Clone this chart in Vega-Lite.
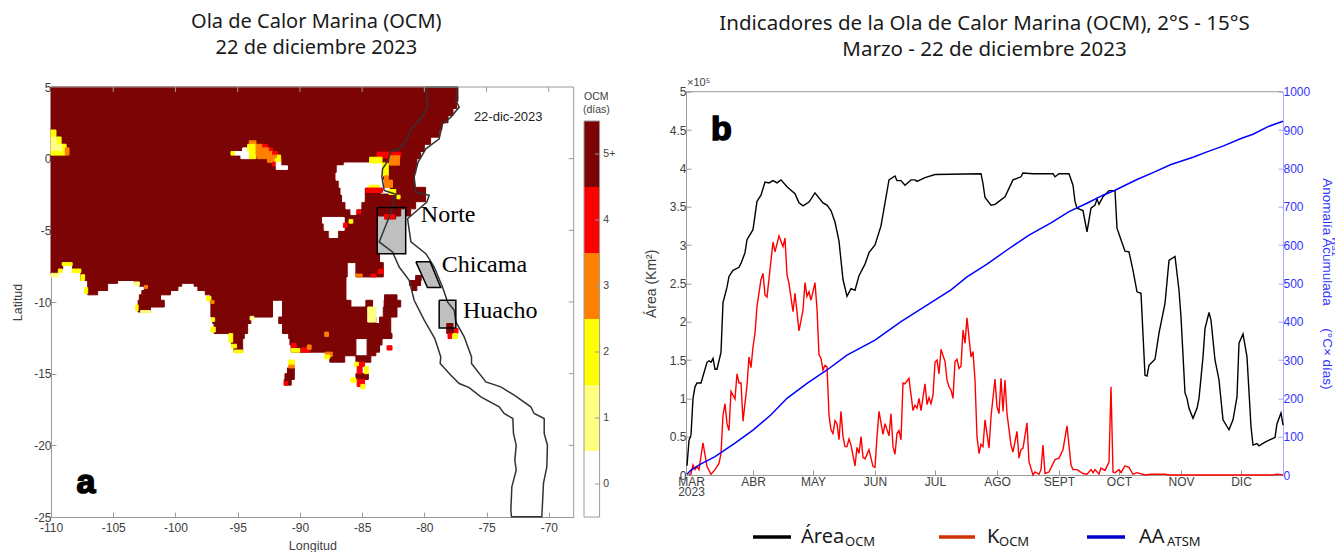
{"$schema":"https://vega.github.io/schema/vega-lite/v6.json","background":"white","padding":{"left":11,"top":11,"right":55,"bottom":36},"bounds":"flush","spacing":10,
"config":{"view":{"stroke":null},"axis":{"labelFont":"Liberation Sans","titleFont":"Liberation Sans","labelFontSize":12,"labelColor":"#404040","titleColor":"#404040","titleFontWeight":"normal","titleFontSize":12.5,"domainColor":"#9a9a9a","tickColor":"#9a9a9a","grid":false,"tickSize":-5,"labelOverlap":false,"labelFlush":false},"title":{"font":"Noto Sans","fontSize":20,"fontWeight":"normal","color":"#1a1a1a","anchor":"middle","lineHeight":26}},
"datasets":{
"celdas":[
{"n":5,"s":4,"w":-110,"e":-77.3,"ocm":5},{"n":4,"s":3.5,"w":-110,"e":-77.4,"ocm":5},{"n":3.5,"s":3,"w":-110,"e":-77.7,"ocm":5},{"n":3,"s":2.5,"w":-110,"e":-78.1,"ocm":5},{"n":2.5,"s":2,"w":-110,"e":-78.6,"ocm":5},{"n":2,"s":1.5,"w":-110,"e":-78.8,"ocm":5},{"n":1.5,"s":1,"w":-110,"e":-79.5,"ocm":5},{"n":1,"s":0.5,"w":-110,"e":-80,"ocm":5},{"n":0.5,"s":0,"w":-110,"e":-80.3,"ocm":5},{"n":0,"s":-0.5,"w":-110,"e":-80.6,"ocm":5},{"n":-0.5,"s":-1,"w":-110,"e":-80.7,"ocm":5},{"n":-1,"s":-2,"w":-110,"e":-80.8,"ocm":5},{"n":-2,"s":-3,"w":-110,"e":-79.9,"ocm":5},{"n":-3,"s":-3.5,"w":-110,"e":-80.7,"ocm":5},
{"n":-3.5,"s":-4,"w":-110,"e":-81.9,"ocm":5},{"n":-3.5,"s":-4,"w":-81.5,"e":-81.1,"ocm":5},{"n":-4,"s":-4.2,"w":-110,"e":-83.79,"ocm":5},{"n":-4,"s":-4.2,"w":-83.2,"e":-82.3,"ocm":5},{"n":-4.2,"s":-6.6,"w":-110,"e":-83.79,"ocm":5},{"n":-6.6,"s":-7.25,"w":-110,"e":-83.6,"ocm":5},
{"n":-7.25,"s":-7.7,"w":-110,"e":-109.06,"ocm":5},{"n":-7.25,"s":-7.7,"w":-108.26,"e":-86.2,"ocm":5},{"n":-7.25,"s":-7.7,"w":-85.5,"e":-83.3,"ocm":5},
{"n":-7.7,"s":-8.1,"w":-110,"e":-109.46,"ocm":5},{"n":-7.7,"s":-8.1,"w":-107.6,"e":-86.2,"ocm":5},{"n":-7.7,"s":-8.1,"w":-85.5,"e":-83.3,"ocm":5},
{"n":-8.1,"s":-8.25,"w":-107.6,"e":-86.2,"ocm":5},{"n":-8.1,"s":-8.25,"w":-85.5,"e":-83.3,"ocm":5},{"n":-8.25,"s":-8.5,"w":-107.6,"e":-86.3,"ocm":5},
{"n":-8.5,"s":-8.7,"w":-107.05,"e":-104.65,"ocm":5},{"n":-8.5,"s":-8.7,"w":-103.3,"e":-86.3,"ocm":5},
{"n":-8.7,"s":-8.9,"w":-107.05,"e":-105.45,"ocm":5},{"n":-8.7,"s":-8.9,"w":-102.9,"e":-99.5,"ocm":5},{"n":-8.7,"s":-8.9,"w":-98.5,"e":-86.3,"ocm":5},
{"n":-8.9,"s":-9.2,"w":-107.05,"e":-105.45,"ocm":5},{"n":-8.9,"s":-9.2,"w":-102.5,"e":-99.8,"ocm":5},{"n":-8.9,"s":-9.2,"w":-98.2,"e":-86.3,"ocm":5},
{"n":-9.2,"s":-9.5,"w":-107.05,"e":-106.25,"ocm":5},{"n":-9.2,"s":-9.5,"w":-102.7,"e":-100.4,"ocm":5},{"n":-9.2,"s":-9.5,"w":-97.6,"e":-86.3,"ocm":5},
{"n":-9.5,"s":-9.88,"w":-102.9,"e":-101.2,"ocm":5},{"n":-9.5,"s":-9.88,"w":-97.2,"e":-86.3,"ocm":5},{"n":-9.5,"s":-9.88,"w":-83.2,"e":-82.2,"ocm":5},
{"n":-9.88,"s":-10.35,"w":-103,"e":-100.9,"ocm":5},{"n":-9.88,"s":-10.35,"w":-97.15,"e":-92.2,"ocm":5},{"n":-9.88,"s":-10.35,"w":-91.4,"e":-85.9,"ocm":5},{"n":-9.88,"s":-10.35,"w":-84.7,"e":-84.16,"ocm":5},{"n":-9.88,"s":-10.35,"w":-83.23,"e":-81.9,"ocm":5},
{"n":-10.35,"s":-10.7,"w":-103,"e":-102,"ocm":5},{"n":-10.35,"s":-10.7,"w":-97.15,"e":-92.2,"ocm":5},{"n":-10.35,"s":-10.7,"w":-91.4,"e":-84.57,"ocm":5},{"n":-10.35,"s":-10.7,"w":-83.3,"e":-82.2,"ocm":5},
{"n":-10.7,"s":-11.05,"w":-97.15,"e":-92.2,"ocm":5},{"n":-10.7,"s":-11.05,"w":-91.4,"e":-84.57,"ocm":5},{"n":-10.7,"s":-11.05,"w":-83.3,"e":-82.2,"ocm":5},
{"n":-11.05,"s":-11.5,"w":-97,"e":-93.94,"ocm":5},{"n":-11.05,"s":-11.5,"w":-91.7,"e":-83.9,"ocm":5},{"n":-11.05,"s":-11.5,"w":-83.6,"e":-82.7,"ocm":5},
{"n":-11.5,"s":-12.2,"w":-96.9,"e":-94.2,"ocm":5},{"n":-11.5,"s":-12.2,"w":-91.4,"e":-82.7,"ocm":5},
{"n":-12.2,"s":-12.55,"w":-95.5,"e":-94.47,"ocm":5},{"n":-12.2,"s":-12.55,"w":-90.9,"e":-82.6,"ocm":5},
{"n":-12.55,"s":-13,"w":-95.5,"e":-94.6,"ocm":5},{"n":-12.55,"s":-13,"w":-90.8,"e":-85.5,"ocm":5},{"n":-12.55,"s":-13,"w":-84.6,"e":-83.4,"ocm":5},
{"n":-13,"s":-13.5,"w":-95.3,"e":-94.6,"ocm":5},{"n":-13,"s":-13.5,"w":-90.7,"e":-85.5,"ocm":5},{"n":-13,"s":-13.5,"w":-84.6,"e":-83.6,"ocm":5},
{"n":-13.5,"s":-13.75,"w":-87.9,"e":-85.5,"ocm":5},{"n":-13.5,"s":-13.75,"w":-84.6,"e":-83.9,"ocm":5},{"n":-13.75,"s":-14.2,"w":-87.6,"e":-86.4,"ocm":5},{"n":-13.75,"s":-14.2,"w":-85.5,"e":-84.3,"ocm":5},
{"n":-15,"s":-15.4,"w":-85.5,"e":-84.5,"ocm":5},{"n":-14.6,"s":-15,"w":-91,"e":-90.45,"ocm":5},{"n":-15,"s":-15.4,"w":-91.2,"e":-90.45,"ocm":5},{"n":-15.4,"s":-15.8,"w":-91.26,"e":-90.7,"ocm":5},
{"n":-14.2,"s":-14.5,"w":-85.3,"e":-84.8,"ocm":4},{"n":-14.2,"s":-14.5,"w":-85.6,"e":-85.3,"ocm":2},{"n":-14.5,"s":-15,"w":-85.4,"e":-85,"ocm":4},{"n":-14.5,"s":-15,"w":-84.8,"e":-84.5,"ocm":2},{"n":-15.4,"s":-15.9,"w":-85.4,"e":-84.8,"ocm":4},{"n":-15.3,"s":-15.6,"w":-85.9,"e":-85.5,"ocm":2},{"n":-15.75,"s":-16.05,"w":-85.1,"e":-84.8,"ocm":2},
{"n":-14.05,"s":-14.4,"w":-90.9,"e":-90.45,"ocm":2},{"n":-14.4,"s":-14.6,"w":-90.9,"e":-90.45,"ocm":3},{"n":-15.55,"s":-15.8,"w":-91.26,"e":-91,"ocm":4},
{"n":-11.5,"s":-11.85,"w":-78.2,"e":-77.7,"ocm":5},{"n":-11.85,"s":-12.2,"w":-78.2,"e":-77.6,"ocm":5},{"n":-11.85,"s":-12.2,"w":-77.6,"e":-77.3,"ocm":4},{"n":-12.2,"s":-12.55,"w":-78.1,"e":-77.8,"ocm":4},{"n":-12.2,"s":-12.55,"w":-77.7,"e":-77.35,"ocm":2},
{"n":-8.15,"s":-8.5,"w":-80.7,"e":-80.25,"ocm":5},{"n":-8.5,"s":-8.85,"w":-81.2,"e":-80.3,"ocm":5},{"n":-8.85,"s":-9.2,"w":-81,"e":-80.6,"ocm":5},
{"n":2,"s":1.5,"w":-110,"e":-109.6,"ocm":2},{"n":1.5,"s":1,"w":-110,"e":-109.2,"ocm":1},{"n":1.5,"s":1,"w":-109.5,"e":-109.2,"ocm":2},{"n":1,"s":0.5,"w":-110,"e":-108.8,"ocm":1},{"n":1,"s":0.5,"w":-109.05,"e":-108.8,"ocm":2},{"n":0.5,"s":0.25,"w":-110,"e":-108.85,"ocm":2},{"n":0.75,"s":0.25,"w":-108.85,"e":-108.55,"ocm":3},
{"n":1.25,"s":1,"w":-94.07,"e":-93.53,"ocm":3},{"n":1,"s":0.75,"w":-94.2,"e":-93.53,"ocm":2},{"n":1,"s":0.75,"w":-93.53,"e":-93,"ocm":3},{"n":1,"s":0.75,"w":-93,"e":-92.6,"ocm":4},{"n":0.75,"s":0.5,"w":-94.6,"e":-94.2,"ocm":0},{"n":0.75,"s":0.5,"w":-94.2,"e":-93.53,"ocm":2},{"n":0.75,"s":0.5,"w":-93.53,"e":-92.46,"ocm":3},{"n":0.75,"s":0.5,"w":-92.46,"e":-92.2,"ocm":4},
{"n":0.5,"s":0.25,"w":-95.27,"e":-94.07,"ocm":0},{"n":0.5,"s":0.25,"w":-95.54,"e":-95.27,"ocm":2},{"n":0.5,"s":0.25,"w":-94.07,"e":-93.53,"ocm":2},{"n":0.5,"s":0.25,"w":-93.53,"e":-92.2,"ocm":3},{"n":0.5,"s":0.25,"w":-92.2,"e":-91.8,"ocm":4},
{"n":0.25,"s":0,"w":-94.74,"e":-94.07,"ocm":0},{"n":0.25,"s":0,"w":-94.07,"e":-93.53,"ocm":2},{"n":0.25,"s":0,"w":-93.4,"e":-91.8,"ocm":3},{"n":0.25,"s":0,"w":-91.8,"e":-91.55,"ocm":2},
{"n":0,"s":-0.25,"w":-92.6,"e":-92.05,"ocm":3},{"n":0,"s":-0.25,"w":-92,"e":-91.53,"ocm":2},{"n":-0.25,"s":-0.5,"w":-92.2,"e":-91.9,"ocm":4},{"n":-0.25,"s":-0.5,"w":-91.9,"e":-91.53,"ocm":0},{"n":-0.5,"s":-0.75,"w":-91.9,"e":-91,"ocm":0},
{"n":-0.3,"s":-0.5,"w":-86.44,"e":-83.4,"ocm":0},{"n":-0.5,"s":-1,"w":-87,"e":-83.36,"ocm":0},{"n":-1,"s":-1.5,"w":-87.1,"e":-83.36,"ocm":0},{"n":-1.5,"s":-2,"w":-86.84,"e":-83.23,"ocm":0},{"n":-2,"s":-2.5,"w":-86.7,"e":-84.83,"ocm":0},{"n":-2.5,"s":-3,"w":-86.57,"e":-84.83,"ocm":0},{"n":-3,"s":-3.5,"w":-86.3,"e":-85.1,"ocm":0},{"n":-3.5,"s":-3.9,"w":-85.9,"e":-85.5,"ocm":0},{"n":-4.1,"s":-4.5,"w":-88.18,"e":-86.44,"ocm":0},{"n":-4.5,"s":-5,"w":-88.05,"e":-86.44,"ocm":0},{"n":-5,"s":-5.5,"w":-87.64,"e":-86.97,"ocm":0},{"n":-2,"s":-2.4,"w":-83.5,"e":-82.83,"ocm":0},
{"n":0.45,"s":0.05,"w":-83.8,"e":-81.9,"ocm":4},{"n":0.2,"s":-0.45,"w":-82.8,"e":-82,"ocm":3},{"n":0.1,"s":-0.3,"w":-84.4,"e":-83.4,"ocm":2},{"n":-0.3,"s":-1.2,"w":-83.36,"e":-82.9,"ocm":2},{"n":-1.2,"s":-1.5,"w":-83.2,"e":-82.9,"ocm":3},{"n":-1.5,"s":-2,"w":-83.23,"e":-82.56,"ocm":3},{"n":-1.85,"s":-2.05,"w":-84.43,"e":-83.63,"ocm":2},{"n":-2.05,"s":-2.35,"w":-84.7,"e":-83.36,"ocm":4},{"n":-2.15,"s":-2.5,"w":-82.83,"e":-82.3,"ocm":2},{"n":-2.55,"s":-2.8,"w":-82.2,"e":-81.95,"ocm":2},{"n":-3.6,"s":-3.85,"w":-85.4,"e":-85.1,"ocm":4},{"n":-4.25,"s":-4.5,"w":-86.05,"e":-85.75,"ocm":2},{"n":-4.5,"s":-4.8,"w":-86.5,"e":-86.2,"ocm":4},{"n":-3.9,"s":-4.2,"w":-83.2,"e":-82.4,"ocm":4},{"n":-8.05,"s":-8.25,"w":-85.5,"e":-85,"ocm":3},{"n":-8.05,"s":-8.25,"w":-84.3,"e":-83.9,"ocm":4},{"n":-7.7,"s":-8,"w":-83.7,"e":-83.3,"ocm":4},
{"n":-7.25,"s":-7.45,"w":-109.1,"e":-108.3,"ocm":2},{"n":-7.7,"s":-7.95,"w":-109.4,"e":-109.1,"ocm":2},{"n":-8,"s":-8.25,"w":-110,"e":-109.4,"ocm":1},{"n":-7.7,"s":-7.95,"w":-108.3,"e":-107.6,"ocm":2},{"n":-8.1,"s":-8.5,"w":-107.6,"e":-107.3,"ocm":2},{"n":-9,"s":-9.4,"w":-107.3,"e":-107.05,"ocm":2},{"n":-8.85,"s":-9.05,"w":-102.5,"e":-102.25,"ocm":3},{"n":-8.6,"s":-8.85,"w":-103.3,"e":-102.9,"ocm":1},{"n":-9.6,"s":-9.9,"w":-97.5,"e":-97.15,"ocm":2},{"n":-9.9,"s":-10.1,"w":-97.2,"e":-96.9,"ocm":3},{"n":-10.2,"s":-10.6,"w":-103.2,"e":-103,"ocm":2},{"n":-10.6,"s":-10.75,"w":-102.8,"e":-102,"ocm":1},{"n":-11.1,"s":-11.35,"w":-97.1,"e":-96.85,"ocm":2},{"n":-11.75,"s":-12.1,"w":-97.15,"e":-96.8,"ocm":2},{"n":-12.2,"s":-12.8,"w":-95.7,"e":-95.4,"ocm":2},{"n":-12.95,"s":-13.2,"w":-95.5,"e":-95.1,"ocm":2},{"n":-13.35,"s":-13.55,"w":-95.3,"e":-94.6,"ocm":2},{"n":-11,"s":-11.25,"w":-94,"e":-93.7,"ocm":1},
{"n":-12.9,"s":-13.2,"w":-90.7,"e":-90.3,"ocm":4},{"n":-13.25,"s":-13.5,"w":-90.7,"e":-90,"ocm":2},{"n":-13.2,"s":-13.5,"w":-89.9,"e":-89.2,"ocm":4},{"n":-12.1,"s":-12.4,"w":-88,"e":-87.7,"ocm":3},{"n":-13,"s":-13.3,"w":-89.4,"e":-89.1,"ocm":3},{"n":-13.5,"s":-13.8,"w":-87.95,"e":-87.4,"ocm":3},{"n":-13.7,"s":-13.95,"w":-88,"e":-87.6,"ocm":2},{"n":-13.05,"s":-13.35,"w":-83,"e":-82.6,"ocm":4},{"n":-10.35,"s":-11.4,"w":-84.55,"e":-83.9,"ocm":1}
],
"cajas":[
{"caja":"Norte","i":1,"lon":-83.79,"lat":-3.4},{"caja":"Norte","i":2,"lon":-81.5,"lat":-3.4},{"caja":"Norte","i":3,"lon":-81.5,"lat":-6.63},{"caja":"Norte","i":4,"lon":-83.79,"lat":-6.63},{"caja":"Norte","i":5,"lon":-83.79,"lat":-3.4},
{"caja":"Chicama","i":1,"lon":-80.68,"lat":-7.2},{"caja":"Chicama","i":2,"lon":-79.53,"lat":-7.2},{"caja":"Chicama","i":3,"lon":-78.68,"lat":-8.99},{"caja":"Chicama","i":4,"lon":-79.75,"lat":-8.99},{"caja":"Chicama","i":5,"lon":-80.68,"lat":-7.2},
{"caja":"Huacho","i":1,"lon":-78.81,"lat":-9.88},{"caja":"Huacho","i":2,"lon":-77.47,"lat":-9.88},{"caja":"Huacho","i":3,"lon":-77.47,"lat":-11.81},{"caja":"Huacho","i":4,"lon":-78.81,"lat":-11.81},{"caja":"Huacho","i":5,"lon":-78.81,"lat":-9.88}
],
"costa":[
{"i":1,"lon":-79.88,"lat":4.99},{"i":2,"lon":-79.8,"lat":4.29},{"i":3,"lon":-79.69,"lat":3.71},{"i":4,"lon":-80.01,"lat":3.13},{"i":5,"lon":-80.68,"lat":2.43},{"i":6,"lon":-81.22,"lat":1.85},{"i":7,"lon":-81.35,"lat":1.39},{"i":8,"lon":-82.02,"lat":0.69},{"i":9,"lon":-82.74,"lat":0.46},{"i":10,"lon":-82.9,"lat":-0.12},{"i":11,"lon":-83.36,"lat":-0.7},{"i":12,"lon":-83.41,"lat":-1.28},{"i":13,"lon":-83.23,"lat":-2.21},{"i":14,"lon":-82.29,"lat":-2.49},{"i":15,"lon":-82.48,"lat":-3.14},{"i":16,"lon":-82.83,"lat":-4.07},{"i":17,"lon":-83.63,"lat":-5.81},{"i":18,"lon":-82.56,"lat":-6.51},{"i":19,"lon":-82.02,"lat":-7.56},{"i":20,"lon":-81.22,"lat":-8.48},{"i":21,"lon":-80.82,"lat":-9.88},{"i":22,"lon":-80.01,"lat":-11.27},{"i":23,"lon":-79.16,"lat":-12.55},{"i":24,"lon":-78.68,"lat":-13.83},{"i":25,"lon":-78.73,"lat":-14.29},{"i":26,"lon":-77.87,"lat":-15.11},{"i":27,"lon":-77.2,"lat":-15.69},{"i":28,"lon":-76.4,"lat":-15.97},{"i":29,"lon":-75.46,"lat":-16.62},{"i":30,"lon":-73.99,"lat":-17.31},{"i":31,"lon":-73.59,"lat":-17.78},{"i":32,"lon":-72.89,"lat":-18.13},{"i":33,"lon":-72.84,"lat":-19.17},{"i":34,"lon":-72.62,"lat":-19.99},{"i":35,"lon":-72.73,"lat":-21.03},{"i":36,"lon":-72.62,"lat":-21.73},{"i":37,"lon":-72.97,"lat":-22.89},{"i":38,"lon":-73.05,"lat":-24.51},{"i":39,"lon":-73,"lat":-24.98},
{"i":40,"lon":-70.56,"lat":-24.98},{"i":41,"lon":-70.43,"lat":-22.66},{"i":42,"lon":-70.16,"lat":-21.5},{"i":43,"lon":-70.11,"lat":-19.99},{"i":44,"lon":-70.37,"lat":-19.17},{"i":45,"lon":-70.37,"lat":-18.13},{"i":46,"lon":-71.18,"lat":-17.78},{"i":47,"lon":-71.45,"lat":-17.31},{"i":48,"lon":-72.78,"lat":-16.5},{"i":49,"lon":-73.86,"lat":-15.92},{"i":50,"lon":-75.06,"lat":-15.57},{"i":51,"lon":-76.21,"lat":-14.29},{"i":52,"lon":-76.21,"lat":-13.83},{"i":53,"lon":-76.8,"lat":-12.43},{"i":54,"lon":-77.47,"lat":-11.39},{"i":55,"lon":-77.6,"lat":-10.58},{"i":56,"lon":-78.14,"lat":-9.99},{"i":57,"lon":-78.54,"lat":-8.95},{"i":58,"lon":-79.21,"lat":-7.56},{"i":59,"lon":-79.88,"lat":-6.63},{"i":60,"lon":-81.08,"lat":-5.81},{"i":61,"lon":-81.35,"lat":-4.19},{"i":62,"lon":-79.8,"lat":-3.03},{"i":63,"lon":-79.61,"lat":-2.56},{"i":64,"lon":-80.68,"lat":-2.33},{"i":65,"lon":-80.82,"lat":-1.28},{"i":66,"lon":-80.5,"lat":-0.24},{"i":67,"lon":-79.88,"lat":0.69},{"i":68,"lon":-78.81,"lat":1.39},{"i":69,"lon":-78.54,"lat":2.43},{"i":70,"lon":-77.87,"lat":2.9},{"i":71,"lon":-77.2,"lat":3.6},{"i":72,"lon":-77.47,"lat":4.06},{"i":73,"lon":-77.34,"lat":4.99},{"i":74,"lon":-79.88,"lat":4.99}
],
"area":[
{"fecha":"2023-02-27","valor":0.12},{"fecha":"2023-02-28","valor":0.45},{"fecha":"2023-03-01","valor":0.52},{"fecha":"2023-03-02","valor":1.0},{"fecha":"2023-03-03","valor":1.15},{"fecha":"2023-03-04","valor":1.2},{"fecha":"2023-03-06","valor":1.2},{"fecha":"2023-03-09","valor":1.47},{"fecha":"2023-03-10","valor":1.49},{"fecha":"2023-03-11","valor":1.47},{"fecha":"2023-03-12","valor":1.52},{"fecha":"2023-03-13","valor":1.38},{"fecha":"2023-03-14","valor":1.38},{"fecha":"2023-03-16","valor":1.6},{"fecha":"2023-03-17","valor":2.25},{"fecha":"2023-03-19","valor":2.45},{"fecha":"2023-03-20","valor":2.59},{"fecha":"2023-03-22","valor":2.67},{"fecha":"2023-03-25","valor":2.71},{"fecha":"2023-03-26","valor":2.76},{"fecha":"2023-03-28","valor":2.9},{"fecha":"2023-03-29","valor":3.07},{"fecha":"2023-04-01","valor":3.2},{"fecha":"2023-04-03","valor":3.57},{"fecha":"2023-04-05","valor":3.65},{"fecha":"2023-04-07","valor":3.82},{"fecha":"2023-04-09","valor":3.81},{"fecha":"2023-04-11","valor":3.84},{"fecha":"2023-04-13","valor":3.81},{"fecha":"2023-04-15","valor":3.85},{"fecha":"2023-04-18","valor":3.76},{"fecha":"2023-04-22","valor":3.67},{"fecha":"2023-04-24","valor":3.55},{"fecha":"2023-04-26","valor":3.51},{"fecha":"2023-04-29","valor":3.56},{"fecha":"2023-05-02","valor":3.68},{"fecha":"2023-05-06","valor":3.55},{"fecha":"2023-05-08","valor":3.52},{"fecha":"2023-05-10","valor":3.45},{"fecha":"2023-05-12","valor":3.3},{"fecha":"2023-05-14","valor":3.05},{"fecha":"2023-05-16","valor":2.55},{"fecha":"2023-05-18","valor":2.33},{"fecha":"2023-05-20","valor":2.43},{"fecha":"2023-05-22","valor":2.41},{"fecha":"2023-05-24","valor":2.6},{"fecha":"2023-05-27","valor":2.75},{"fecha":"2023-05-29","valor":2.9},{"fecha":"2023-06-01","valor":3.0},{"fecha":"2023-06-04","valor":3.25},{"fecha":"2023-06-08","valor":3.85},{"fecha":"2023-06-11","valor":3.9},{"fecha":"2023-06-12","valor":3.84},{"fecha":"2023-06-14","valor":3.84},{"fecha":"2023-06-16","valor":3.78},{"fecha":"2023-06-19","valor":3.85},{"fecha":"2023-06-21","valor":3.85},{"fecha":"2023-06-22","valor":3.83},{"fecha":"2023-06-26","valor":3.88},{"fecha":"2023-07-01","valor":3.92},{"fecha":"2023-07-24","valor":3.93},{"fecha":"2023-07-25","valor":3.8},{"fecha":"2023-07-26","valor":3.62},{"fecha":"2023-07-29","valor":3.52},{"fecha":"2023-07-31","valor":3.53},{"fecha":"2023-08-01","valor":3.55},{"fecha":"2023-08-05","valor":3.63},{"fecha":"2023-08-09","valor":3.85},{"fecha":"2023-08-13","valor":3.89},{"fecha":"2023-08-14","valor":3.94},{"fecha":"2023-08-19","valor":3.93},{"fecha":"2023-08-29","valor":3.93},{"fecha":"2023-08-30","valor":3.89},{"fecha":"2023-09-01","valor":3.93},{"fecha":"2023-09-06","valor":3.93},{"fecha":"2023-09-08","valor":3.78},{"fecha":"2023-09-09","valor":3.57},{"fecha":"2023-09-10","valor":3.48},{"fecha":"2023-09-13","valor":3.45},{"fecha":"2023-09-15","valor":3.17},{"fecha":"2023-09-17","valor":3.48},{"fecha":"2023-09-19","valor":3.52},{"fecha":"2023-09-20","valor":3.6},{"fecha":"2023-09-21","valor":3.53},{"fecha":"2023-09-23","valor":3.63},{"fecha":"2023-09-26","valor":3.71},{"fecha":"2023-09-29","valor":3.71},{"fecha":"2023-09-30","valor":3.22},{"fecha":"2023-10-02","valor":3.07},{"fecha":"2023-10-04","valor":2.92},{"fecha":"2023-10-06","valor":2.91},{"fecha":"2023-10-08","valor":2.67},{"fecha":"2023-10-10","valor":2.39},{"fecha":"2023-10-12","valor":2.37},{"fecha":"2023-10-14","valor":1.3},{"fecha":"2023-10-15","valor":1.29},{"fecha":"2023-10-16","valor":1.43},{"fecha":"2023-10-19","valor":1.51},{"fecha":"2023-10-21","valor":1.85},{"fecha":"2023-10-24","valor":2.24},{"fecha":"2023-10-26","valor":2.8},{"fecha":"2023-10-29","valor":2.85},{"fecha":"2023-10-31","valor":2.41},{"fecha":"2023-11-01","valor":2.06},{"fecha":"2023-11-03","valor":1.07},{"fecha":"2023-11-04","valor":1.0},{"fecha":"2023-11-05","valor":0.87},{"fecha":"2023-11-07","valor":0.74},{"fecha":"2023-11-09","valor":0.87},{"fecha":"2023-11-10","valor":1.0},{"fecha":"2023-11-12","valor":1.54},{"fecha":"2023-11-13","valor":1.91},{"fecha":"2023-11-15","valor":2.12},{"fecha":"2023-11-16","valor":2.02},{"fecha":"2023-11-18","valor":1.5},{"fecha":"2023-11-20","valor":1.24},{"fecha":"2023-11-22","valor":0.72},{"fecha":"2023-11-25","valor":0.59},{"fecha":"2023-11-27","valor":0.72},{"fecha":"2023-11-29","valor":1.02},{"fecha":"2023-11-30","valor":1.72},{"fecha":"2023-12-02","valor":1.84},{"fecha":"2023-12-04","valor":1.54},{"fecha":"2023-12-06","valor":0.63},{"fecha":"2023-12-07","valor":0.39},{"fecha":"2023-12-09","valor":0.41},{"fecha":"2023-12-10","valor":0.38},{"fecha":"2023-12-13","valor":0.43},{"fecha":"2023-12-18","valor":0.49},{"fecha":"2023-12-19","valor":0.67},{"fecha":"2023-12-21","valor":0.81},{"fecha":"2023-12-22","valor":0.65}
],
"k":[
{"fecha":"2023-02-28","valor":0},{"fecha":"2023-03-01","valor":0.02},{"fecha":"2023-03-02","valor":0.13},{"fecha":"2023-03-03","valor":0.07},{"fecha":"2023-03-04","valor":0.11},{"fecha":"2023-03-05","valor":0.07},{"fecha":"2023-03-07","valor":0.42},{"fecha":"2023-03-09","valor":0.11},{"fecha":"2023-03-11","valor":0.01},{"fecha":"2023-03-13","valor":0.07},{"fecha":"2023-03-15","valor":0.15},{"fecha":"2023-03-16","valor":0.28},{"fecha":"2023-03-17","valor":0.78},{"fecha":"2023-03-18","valor":0.93},{"fecha":"2023-03-19","valor":0.67},{"fecha":"2023-03-20","valor":0.58},{"fecha":"2023-03-21","valor":1.09},{"fecha":"2023-03-23","valor":0.99},{"fecha":"2023-03-24","valor":1.32},{"fecha":"2023-03-25","valor":1.2},{"fecha":"2023-03-26","valor":1.2},{"fecha":"2023-03-27","valor":0.7},{"fecha":"2023-03-29","valor":1.17},{"fecha":"2023-03-30","valor":1.54},{"fecha":"2023-03-31","valor":1.4},{"fecha":"2023-04-01","valor":1.67},{"fecha":"2023-04-02","valor":1.85},{"fecha":"2023-04-03","valor":2.2},{"fecha":"2023-04-05","valor":2.55},{"fecha":"2023-04-06","valor":2.63},{"fecha":"2023-04-07","valor":2.35},{"fecha":"2023-04-08","valor":2.32},{"fecha":"2023-04-11","valor":3.04},{"fecha":"2023-04-12","valor":2.91},{"fecha":"2023-04-14","valor":3.12},{"fecha":"2023-04-16","valor":2.98},{"fecha":"2023-04-17","valor":3.09},{"fecha":"2023-04-18","valor":2.61},{"fecha":"2023-04-19","valor":2.5},{"fecha":"2023-04-21","valor":2.13},{"fecha":"2023-04-22","valor":2.37},{"fecha":"2023-04-24","valor":1.88},{"fecha":"2023-04-26","valor":2.15},{"fecha":"2023-04-27","valor":2.51},{"fecha":"2023-04-28","valor":2.33},{"fecha":"2023-04-29","valor":2.39},{"fecha":"2023-04-30","valor":2.28},{"fecha":"2023-05-02","valor":2.51},{"fecha":"2023-05-03","valor":2.17},{"fecha":"2023-05-04","valor":1.57},{"fecha":"2023-05-05","valor":1.52},{"fecha":"2023-05-06","valor":1.37},{"fecha":"2023-05-07","valor":1.43},{"fecha":"2023-05-08","valor":1.41},{"fecha":"2023-05-09","valor":0.78},{"fecha":"2023-05-10","valor":0.59},{"fecha":"2023-05-11","valor":0.54},{"fecha":"2023-05-12","valor":0.71},{"fecha":"2023-05-13","valor":0.67},{"fecha":"2023-05-14","valor":0.46},{"fecha":"2023-05-15","valor":0.83},{"fecha":"2023-05-16","valor":0.5},{"fecha":"2023-05-17","valor":0.37},{"fecha":"2023-05-18","valor":0.37},{"fecha":"2023-05-19","valor":0.47},{"fecha":"2023-05-20","valor":0.39},{"fecha":"2023-05-22","valor":0.12},{"fecha":"2023-05-23","valor":0.36},{"fecha":"2023-05-24","valor":0.28},{"fecha":"2023-05-25","valor":0.5},{"fecha":"2023-05-26","valor":0.23},{"fecha":"2023-05-27","valor":0.21},{"fecha":"2023-05-29","valor":0.33},{"fecha":"2023-05-31","valor":0.11},{"fecha":"2023-06-01","valor":0.1},{"fecha":"2023-06-02","valor":0.5},{"fecha":"2023-06-03","valor":0.83},{"fecha":"2023-06-05","valor":0.53},{"fecha":"2023-06-06","valor":0.67},{"fecha":"2023-06-08","valor":0.51},{"fecha":"2023-06-09","valor":0.8},{"fecha":"2023-06-10","valor":0.37},{"fecha":"2023-06-11","valor":0.27},{"fecha":"2023-06-12","valor":0.54},{"fecha":"2023-06-13","valor":0.58},{"fecha":"2023-06-14","valor":0.46},{"fecha":"2023-06-15","valor":1.2},{"fecha":"2023-06-16","valor":1.19},{"fecha":"2023-06-18","valor":1.26},{"fecha":"2023-06-20","valor":0.84},{"fecha":"2023-06-21","valor":0.91},{"fecha":"2023-06-22","valor":0.87},{"fecha":"2023-06-23","valor":1.0},{"fecha":"2023-06-24","valor":0.84},{"fecha":"2023-06-26","valor":1.19},{"fecha":"2023-06-27","valor":0.92},{"fecha":"2023-06-28","valor":1.01},{"fecha":"2023-06-29","valor":0.93},{"fecha":"2023-06-30","valor":1.04},{"fecha":"2023-07-01","valor":1.47},{"fecha":"2023-07-02","valor":1.5},{"fecha":"2023-07-03","valor":1.32},{"fecha":"2023-07-04","valor":1.64},{"fecha":"2023-07-06","valor":1.48},{"fecha":"2023-07-07","valor":1.24},{"fecha":"2023-07-08","valor":1.15},{"fecha":"2023-07-09","valor":1.11},{"fecha":"2023-07-10","valor":1.0},{"fecha":"2023-07-11","valor":1.48},{"fecha":"2023-07-12","valor":1.51},{"fecha":"2023-07-13","valor":1.39},{"fecha":"2023-07-14","valor":1.42},{"fecha":"2023-07-15","valor":1.89},{"fecha":"2023-07-16","valor":1.72},{"fecha":"2023-07-17","valor":2.05},{"fecha":"2023-07-19","valor":1.54},{"fecha":"2023-07-20","valor":1.61},{"fecha":"2023-07-21","valor":1.24},{"fecha":"2023-07-22","valor":0.5},{"fecha":"2023-07-23","valor":0.28},{"fecha":"2023-07-24","valor":0.4},{"fecha":"2023-07-25","valor":0.37},{"fecha":"2023-07-26","valor":0.72},{"fecha":"2023-07-28","valor":0.35},{"fecha":"2023-07-29","valor":0.76},{"fecha":"2023-07-31","valor":1.25},{"fecha":"2023-08-01","valor":0.89},{"fecha":"2023-08-02","valor":0.8},{"fecha":"2023-08-03","valor":1.26},{"fecha":"2023-08-04","valor":0.83},{"fecha":"2023-08-05","valor":1.24},{"fecha":"2023-08-06","valor":0.8},{"fecha":"2023-08-08","valor":0.39},{"fecha":"2023-08-09","valor":0.3},{"fecha":"2023-08-11","valor":0.57},{"fecha":"2023-08-12","valor":0.22},{"fecha":"2023-08-13","valor":0.33},{"fecha":"2023-08-14","valor":0.35},{"fecha":"2023-08-16","valor":0.68},{"fecha":"2023-08-17","valor":0.17},{"fecha":"2023-08-19","valor":0},{"fecha":"2023-08-20","valor":0.04},{"fecha":"2023-08-22","valor":0.01},{"fecha":"2023-08-23","valor":0.07},{"fecha":"2023-08-24","valor":0.39},{"fecha":"2023-08-25","valor":0.02},{"fecha":"2023-08-27","valor":0.04},{"fecha":"2023-08-30","valor":0.2},{"fecha":"2023-09-01","valor":0.22},{"fecha":"2023-09-03","valor":0.33},{"fecha":"2023-09-05","valor":0.64},{"fecha":"2023-09-07","valor":0.13},{"fecha":"2023-09-08","valor":0.07},{"fecha":"2023-09-10","valor":0.07},{"fecha":"2023-09-13","valor":0.02},{"fecha":"2023-09-15","valor":0.01},{"fecha":"2023-09-17","valor":0.07},{"fecha":"2023-09-18","valor":0.03},{"fecha":"2023-09-19","valor":0.07},{"fecha":"2023-09-21","valor":0.01},{"fecha":"2023-09-22","valor":0.09},{"fecha":"2023-09-24","valor":0.06},{"fecha":"2023-09-26","valor":0.17},{"fecha":"2023-09-27","valor":1.15},{"fecha":"2023-09-28","valor":0.04},{"fecha":"2023-09-29","valor":0.03},{"fecha":"2023-10-01","valor":0.07},{"fecha":"2023-10-02","valor":0.03},{"fecha":"2023-10-04","valor":0.12},{"fecha":"2023-10-06","valor":0.1},{"fecha":"2023-10-08","valor":0.01},{"fecha":"2023-10-10","valor":0.03},{"fecha":"2023-10-14","valor":0},{"fecha":"2023-10-17","valor":0.01},{"fecha":"2023-10-20","valor":0.01},{"fecha":"2023-10-24","valor":0.01},{"fecha":"2023-10-26","valor":0},{"fecha":"2023-12-17","valor":0},{"fecha":"2023-12-19","valor":0.01},{"fecha":"2023-12-22","valor":0}
],
"aa":[
{"fecha":"2023-02-27","valor":2},{"fecha":"2023-03-01","valor":13},{"fecha":"2023-03-06","valor":29},{"fecha":"2023-03-13","valor":48},{"fecha":"2023-03-23","valor":83},{"fecha":"2023-04-01","valor":117},{"fecha":"2023-04-10","valor":157},{"fecha":"2023-04-18","valor":200},{"fecha":"2023-04-28","valor":239},{"fecha":"2023-05-08","valor":274},{"fecha":"2023-05-18","valor":313},{"fecha":"2023-06-01","valor":352},{"fecha":"2023-06-14","valor":400},{"fecha":"2023-06-27","valor":443},{"fecha":"2023-07-09","valor":483},{"fecha":"2023-07-17","valor":517},{"fecha":"2023-07-27","valor":550},{"fecha":"2023-08-06","valor":587},{"fecha":"2023-08-17","valor":626},{"fecha":"2023-08-28","valor":658},{"fecha":"2023-09-06","valor":687},{"fecha":"2023-09-15","valor":709},{"fecha":"2023-09-23","valor":730},{"fecha":"2023-09-29","valor":743},{"fecha":"2023-10-10","valor":771},{"fecha":"2023-10-18","valor":789},{"fecha":"2023-10-27","valor":810},{"fecha":"2023-11-07","valor":829},{"fecha":"2023-11-14","valor":843},{"fecha":"2023-11-22","valor":858},{"fecha":"2023-12-01","valor":878},{"fecha":"2023-12-07","valor":889},{"fecha":"2023-12-15","valor":910},{"fecha":"2023-12-22","valor":923}
],
"meses":[{"fecha":"2023-03-01"},{"fecha":"2023-04-01"},{"fecha":"2023-05-01"},{"fecha":"2023-06-01"},{"fecha":"2023-07-01"},{"fecha":"2023-08-01"},{"fecha":"2023-09-01"},{"fecha":"2023-10-01"},{"fecha":"2023-11-01"},{"fecha":"2023-12-01"}],
"leyenda":[{"fecha":"2023-04-01","fecha2":"2023-04-20","valor":-0.81,"serie":"Área"},{"fecha":"2023-07-03","fecha2":"2023-07-21","valor":-0.81,"serie":"K"},{"fecha":"2023-09-15","fecha2":"2023-10-04","valor":-0.81,"serie":"AA"}],
"leyendaTexto":[{"fecha":"2023-04-25","valor":-0.81,"t":"Área"},{"fecha":"2023-07-27","valor":-0.81,"t":"K"},{"fecha":"2023-10-11","valor":-0.81,"t":"AA"}],
"leyendaSub":[{"fecha":"2023-05-17","valor":-0.88,"t":"OCM"},{"fecha":"2023-08-02","valor":-0.88,"t":"OCM"},{"fecha":"2023-10-25","valor":-0.88,"t":"ATSM"}]
},
"hconcat":[
{"width":522.7,"height":430,"title":{"text":["Ola de Calor Marina (OCM)","22 de diciembre 2023"],"offset":23.5,"dx":4,"lineHeight":26},
"encoding":{"x":{"type":"quantitative","scale":{"domain":[-110,-68],"nice":false,"zero":false}},"y":{"type":"quantitative","scale":{"domain":[-25,5],"nice":false,"zero":false}}},
"layer":[
{"data":{"name":"cajas"},"mark":{"type":"line","fill":"#bfbfbf","stroke":null,"strokeWidth":0},"encoding":{"x":{"field":"lon","type":"quantitative","axis":{"values":[-110,-105,-100,-95,-90,-85,-80,-75,-70],"title":"Longitud","labelPadding":10,"titlePadding":6,"labelExpr":"''+datum.value"}},"y":{"field":"lat","type":"quantitative","axis":{"values":[-25,-20,-15,-10,-5,0,5],"title":"Latitud","labelPadding":5,"titlePadding":9.5,"labelExpr":"''+datum.value"}},"detail":{"field":"caja"},"order":{"field":"i"}}},
{"data":{"name":"celdas"},"mark":{"type":"rect","strokeWidth":1},"encoding":{"x":{"field":"w","type":"quantitative"},"x2":{"field":"e"},"y":{"field":"n","type":"quantitative"},"y2":{"field":"s"},"fill":{"field":"ocm","type":"ordinal","legend":null,"scale":{"domain":[0,1,2,3,4,5],"range":["#ffffff","#ffff80","#ffff00","#ff8000","#ff0000","#7d0404"]}},"stroke":{"field":"ocm","type":"ordinal","legend":null,"scale":{"domain":[0,1,2,3,4,5],"range":["#ffffff","#ffff80","#ffff00","#ff8000","#ff0000","#7d0404"]}}}},
{"data":{"name":"costa"},"mark":{"type":"line","stroke":"#333333","strokeWidth":1.5},"encoding":{"x":{"field":"lon","type":"quantitative"},"y":{"field":"lat","type":"quantitative"},"order":{"field":"i"}}},
{"data":{"name":"cajas"},"mark":{"type":"line","stroke":"#000000","strokeWidth":1.5},"encoding":{"x":{"field":"lon","type":"quantitative"},"y":{"field":"lat","type":"quantitative"},"detail":{"field":"caja"},"order":{"field":"i"}}},
{"data":{"values":[{"lon":-105},{"lon":-100},{"lon":-95},{"lon":-90},{"lon":-85},{"lon":-80},{"lon":-75},{"lon":-70}]},"mark":{"type":"rule","color":"#9a9a9a"},"encoding":{"x":{"field":"lon","type":"quantitative"},"y":{"datum":5},"y2":{"datum":4.65}}},
{"data":{"values":[{"lat":-20},{"lat":-15},{"lat":-10},{"lat":-5},{"lat":0}]},"mark":{"type":"rule","color":"#9a9a9a"},"encoding":{"y":{"field":"lat","type":"quantitative"},"x":{"datum":-68},"x2":{"datum":-68.4}}},
{"data":{"values":[{"lon":-110,"lat":5,"lon2":-68,"lat2":5},{"lon":-68,"lat":5,"lon2":-68,"lat2":-25}]},"mark":{"type":"rule","color":"#9a9a9a"},"encoding":{"x":{"field":"lon","type":"quantitative"},"x2":{"field":"lon2"},"y":{"field":"lat","type":"quantitative"},"y2":{"field":"lat2"}}},
{"data":{"values":[{"lon":-80.28,"lat":-3.9,"t":"Norte"},{"lon":-78.6,"lat":-7.45,"t":"Chicama"},{"lon":-76.9,"lat":-10.65,"t":"Huacho"}]},"mark":{"type":"text","font":"Liberation Serif","fontSize":24,"align":"left","baseline":"middle","color":"#000000"},"encoding":{"x":{"field":"lon","type":"quantitative"},"y":{"field":"lat","type":"quantitative"},"text":{"field":"t"}}},
{"data":{"values":[{"lon":-76.02,"lat":2.94,"t":"22-dic-2023"}]},"mark":{"type":"text","font":"Liberation Sans","fontSize":13,"align":"left","baseline":"middle","color":"#222222"},"encoding":{"x":{"field":"lon","type":"quantitative"},"y":{"field":"lat","type":"quantitative"},"text":{"field":"t"}}},
{"data":{"values":[{"lon":-107.95,"lat":-22.63,"t":"a"}]},"mark":{"type":"text","font":"Liberation Sans","fontWeight":"bold","fontSize":34,"align":"left","baseline":"middle","color":"#000000","stroke":"#000000","strokeWidth":1.6},"encoding":{"x":{"field":"lon","type":"quantitative"},"y":{"field":"lat","type":"quantitative"},"text":{"field":"t"}}}
]},
{"width":91.6,"height":430,
"encoding":{"x":{"type":"quantitative","axis":null,"scale":{"domain":[0,5.872],"nice":false,"zero":false}},"y":{"type":"quantitative","axis":null,"scale":{"domain":[-0.5,6.015],"nice":false,"zero":false}}},
"layer":[
{"data":{"values":[{"ocm":0,"desde":-0.5,"hasta":0.5},{"ocm":1,"desde":0.5,"hasta":1.5},{"ocm":2,"desde":1.5,"hasta":2.5},{"ocm":3,"desde":2.5,"hasta":3.5},{"ocm":4,"desde":3.5,"hasta":4.5},{"ocm":5,"desde":4.5,"hasta":5.5}]},"mark":{"type":"rect"},"encoding":{"x":{"datum":0},"x2":{"datum":1},"y":{"field":"desde","type":"quantitative"},"y2":{"field":"hasta"},"fill":{"field":"ocm","type":"ordinal","legend":null,"scale":{"domain":[0,1,2,3,4,5],"range":["#ffffff","#ffff80","#ffff00","#ff8000","#ff0000","#7b0000"]}}}},
{"data":{"values":[{"desde":-0.5,"hasta":5.5}]},"mark":{"type":"rect","fillOpacity":0,"stroke":"#9a9a9a","strokeWidth":1},"encoding":{"x":{"datum":0},"x2":{"datum":1},"y":{"field":"desde","type":"quantitative"},"y2":{"field":"hasta"}}},
{"data":{"values":[{"v":0,"t":"0"},{"v":1,"t":"1"},{"v":2,"t":"2"},{"v":3,"t":"3"},{"v":4,"t":"4"},{"v":5,"t":"5+"}]},"mark":{"type":"rule","color":"#9a9a9a"},"encoding":{"x":{"datum":0.7},"x2":{"datum":1},"y":{"field":"v","type":"quantitative"}}},
{"data":{"values":[{"v":0,"t":"0"},{"v":1,"t":"1"},{"v":2,"t":"2"},{"v":3,"t":"3"},{"v":4,"t":"4"},{"v":5,"t":"5+"}]},"mark":{"type":"text","font":"Liberation Sans","fontSize":10.5,"align":"left","baseline":"middle","color":"#404040"},"encoding":{"x":{"datum":1.24},"y":{"field":"v","type":"quantitative"},"text":{"field":"t"}}},
{"data":{"values":[{"v":5.86,"t":"OCM"},{"v":5.66,"t":"(días)"}]},"mark":{"type":"text","font":"Liberation Sans","fontSize":10.5,"align":"center","baseline":"middle","color":"#404040"},"encoding":{"x":{"datum":0.79},"y":{"field":"v","type":"quantitative"},"text":{"field":"t"}}}
]},
{"bounds":"flush","spacing":3.7,"vconcat":[
{"width":597,"height":1,"data":{"values":[{"t":""}]},"mark":{"type":"text","opacity":0},"encoding":{"text":{"field":"t"}}},
{"width":597,"height":383.3,"title":{"text":["Indicadores de la Ola de Calor Marina (OCM), 2°S - 15°S","Marzo - 22 de diciembre 2023"],"offset":16.7,"fontSize":20.5,"lineHeight":26},
"encoding":{"x":{"field":"fecha","type":"temporal","scale":{"type":"utc","domain":[{"year":2023,"month":2,"date":26,"hours":12,"utc":true},{"year":2023,"month":12,"date":22,"utc":true}]},"axis":{"title":null,"values":[{"year":2023,"month":3,"date":1,"utc":true},{"year":2023,"month":4,"date":1,"utc":true},{"year":2023,"month":5,"date":1,"utc":true},{"year":2023,"month":6,"date":1,"utc":true},{"year":2023,"month":7,"date":1,"utc":true},{"year":2023,"month":8,"date":1,"utc":true},{"year":2023,"month":9,"date":1,"utc":true},{"year":2023,"month":10,"date":1,"utc":true},{"year":2023,"month":11,"date":1,"utc":true},{"year":2023,"month":12,"date":1,"utc":true}],"labelExpr":"utcmonth(datum.value)==2?['MAR','2023']:['ENE','FEB','MAR','ABR','MAY','JUN','JUL','AGO','SEPT','OCT','NOV','DIC'][utcmonth(datum.value)]","labelLineHeight":10,"labelPadding":6}}},
"layer":[
{"encoding":{"y":{"field":"valor","type":"quantitative","scale":{"domain":[0,5],"nice":false},"axis":{"values":[0,0.5,1,1.5,2,2.5,3,3.5,4,4.5,5],"format":"~g","title":"Área (Km²)","labelPadding":5,"titleFontSize":14,"titlePadding":11}}},
"layer":[
{"data":{"name":"meses"},"mark":{"type":"rule","color":"#9a9a9a"},"encoding":{"y":{"datum":5},"y2":{"datum":4.935}}},
{"data":{"values":[{"fecha":"2023-02-26T12:00:00Z","fecha2":"2023-12-22T00:00:00Z","valor":5}]},"mark":{"type":"rule","color":"#9a9a9a"},"encoding":{"x2":{"field":"fecha2"}}},
{"data":{"name":"area"},"mark":{"type":"line","color":"#000000","strokeWidth":1.4}},
{"data":{"name":"k"},"mark":{"type":"line","color":"#ff0000","strokeWidth":1.4}},
{"data":{"name":"leyenda"},"mark":{"type":"rule","strokeWidth":3.5},"encoding":{"x2":{"field":"fecha2"},"color":{"field":"serie","type":"nominal","legend":null,"scale":{"domain":["Área","K","AA"],"range":["#000000","#cc3300","#0000cc"]}}}},
{"data":{"name":"leyendaTexto"},"mark":{"type":"text","font":"Noto Sans","fontSize":20,"align":"left","baseline":"middle","color":"#1a1a1a"},"encoding":{"text":{"field":"t"}}},
{"data":{"name":"leyendaSub"},"mark":{"type":"text","font":"Noto Sans","fontSize":13,"align":"left","baseline":"middle","color":"#1a1a1a"},"encoding":{"text":{"field":"t"}}},
{"data":{"values":[{"fecha":"2023-02-27","valor":5.11,"t":"×10⁵"}]},"mark":{"type":"text","font":"Liberation Sans","fontSize":11,"align":"left","baseline":"middle","color":"#404040"},"encoding":{"text":{"field":"t"}}},
{"data":{"values":[{"fecha":"2023-03-11","valor":4.5,"t":"b"}]},"mark":{"type":"text","font":"Liberation Sans","fontWeight":"bold","fontSize":34,"align":"left","baseline":"middle","color":"#000000","stroke":"#000000","strokeWidth":1.6},"encoding":{"text":{"field":"t"}}}
]},
{"encoding":{"y":{"field":"valor","type":"quantitative","scale":{"domain":[0,1000],"nice":false},"axis":{"orient":"right","values":[0,100,200,300,400,500,600,700,800,900,1000],"format":"d","title":"Anomalía Acumulada\u00a0\u00a0\u00a0\u00a0\u00a0\u00a0(°C× días)","domainColor":"#a8a8ff","tickColor":"#a8a8ff","labelColor":"#3333ff","titleColor":"#3333ff","titleFontSize":13.5,"labelPadding":5,"titlePadding":10}}},
"layer":[
{"data":{"name":"aa"},"mark":{"type":"line","color":"#0000ff","strokeWidth":1.5}},
{"data":{"values":[{"fecha":"2024-01-17","valor":595,"t":"TSM"}]},"mark":{"type":"text","font":"Liberation Sans","fontSize":9,"angle":270,"align":"center","baseline":"middle","color":"#3333ff"},"encoding":{"text":{"field":"t"}}}
]}
],"resolve":{"scale":{"y":"independent"}}}
]}
]}
